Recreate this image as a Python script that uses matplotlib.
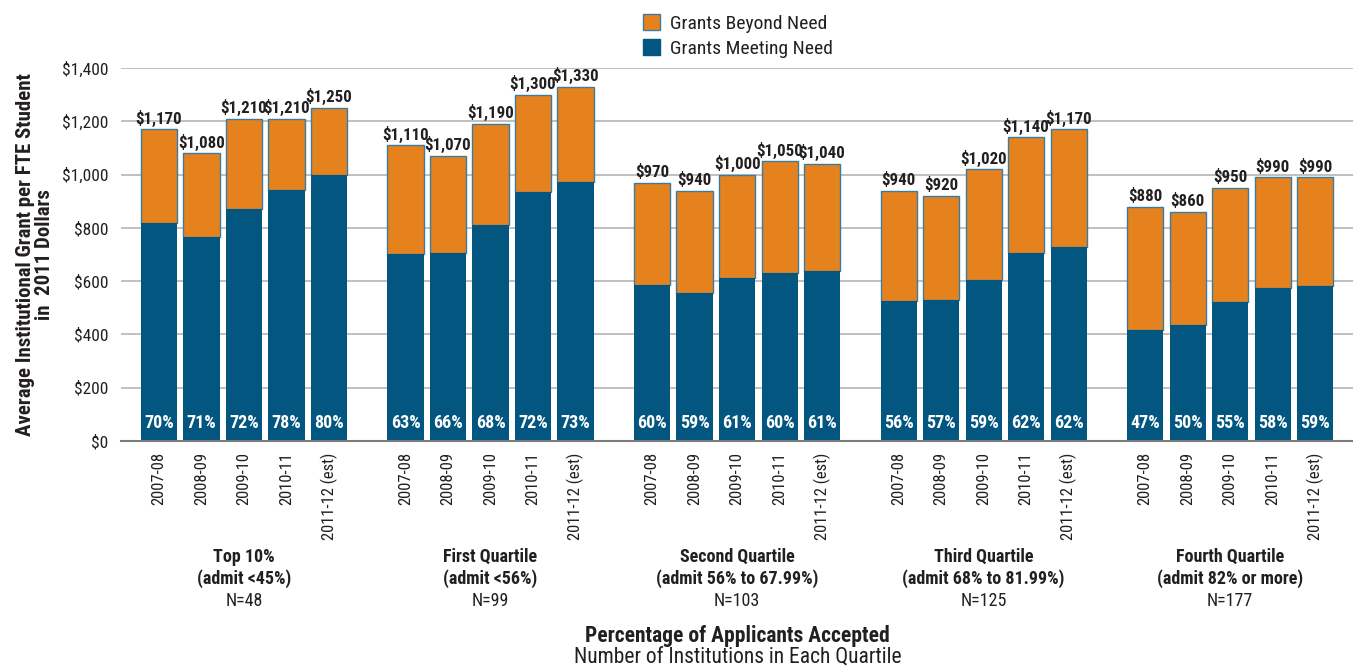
import numpy as np
import matplotlib
matplotlib.use("Agg")
import matplotlib.pyplot as plt
from matplotlib.patches import Patch

plt.rcParams['font.family'] = ['Roboto Condensed', 'Asap Condensed', 'Liberation Sans', 'DejaVu Sans']

# data
years = ['2007-08', '2008-09', '2009-10', '2010-11', '2011-12 (est)']
groups = ['Top 10%', 'First Quartile', 'Second Quartile', 'Third Quartile', 'Fourth Quartile']
admit = ['(admit <45%)', '(admit <56%)', '(admit 56% to 67.99%)',
         '(admit 68% to 81.99%)', '(admit 82% or more)']
n_inst = ['N=48', 'N=99', 'N=103', 'N=125', 'N=177']

totals = [
    [1170, 1080, 1210, 1210, 1250],
    [1110, 1070, 1190, 1300, 1330],
    [970, 940, 1000, 1050, 1040],
    [940, 920, 1020, 1140, 1170],
    [880, 860, 950, 990, 990],
]
meeting = [
    [818, 766, 870, 942, 998],
    [703, 705, 812, 934, 972],
    [584, 557, 612, 630, 637],
    [525, 530, 603, 706, 728],
    [415, 434, 523, 576, 583],
]
pcts = [
    ['70%', '71%', '72%', '78%', '80%'],
    ['63%', '66%', '68%', '72%', '73%'],
    ['60%', '59%', '61%', '60%', '61%'],
    ['56%', '57%', '59%', '62%', '62%'],
    ['47%', '50%', '55%', '58%', '59%'],
]

blue = '#02567f'
orange = '#e6821e'
edge = '#3a7c9f'
txt = '#231f20'

fig = plt.figure(figsize=(13.53, 6.66), dpi=100)
ax = fig.add_axes([0.0894, 0.3378, 0.9106, 0.5602])

pitch = 5.8
for g in range(5):
    x = g * pitch + np.arange(5)
    tot = np.array(totals[g])
    met = np.array(meeting[g])
    ax.bar(x, tot - met, bottom=met, width=0.85, color=orange,
           edgecolor=edge, linewidth=1, zorder=3)
    ax.bar(x, met, width=0.85, color=blue, edgecolor=blue, linewidth=0, zorder=3)
    for i in range(5):
        ax.text(x[i], tot[i] + 10, '$' + format(tot[i], ','), ha='center', va='bottom',
                fontsize=12.2, fontweight='bold', color=txt)
        ax.text(x[i], 68, pcts[g][i], ha='center', va='center', fontsize=13,
                fontweight='bold', color='white', zorder=4)
    cx = (121 + 42.5 * (g * pitch + 2 + 0.894)) / 1353
    fig.text(cx, 1 - 557 / 666, groups[g], ha='center', va='center',
             fontsize=13, fontweight='bold', color=txt)
    fig.text(cx, 1 - 579 / 666, admit[g], ha='center', va='center',
             fontsize=13, fontweight='bold', color=txt)
    fig.text(cx, 1 - 601 / 666, n_inst[g], ha='center', va='center',
             fontsize=13, color=txt)

xt = [g * pitch + i for g in range(5) for i in range(5)]
ax.set_xticks(xt)
ax.set_xticklabels(years * 5, rotation=90, fontsize=12, color=txt)
ax.tick_params(axis='x', length=0, pad=8)
ax.set_xlim(-0.894, 28.09)

ax.set_ylim(0, 1400)
ax.set_yticks(range(0, 1401, 200))
ax.set_yticklabels(['$' + format(v, ',') for v in range(0, 1401, 200)],
                   fontsize=12.5, color=txt)
ax.tick_params(axis='y', length=0, pad=9)
ax.grid(axis='y', color='#b5b5b5', linewidth=1.2, zorder=0)
for s in ['left', 'right', 'top']:
    ax.spines[s].set_visible(False)
ax.spines['bottom'].set_color('#7a7a7a')
ax.spines['bottom'].set_linewidth(1.5)
ax.spines['bottom'].set_zorder(5)

ax.set_ylabel('Average Institutional Grant per FTE Student\nin  2011 Dollars',
              fontsize=15, fontweight='bold', color=txt, labelpad=6, linespacing=1.0)

fig.text(0.545, 1 - 636 / 666, 'Percentage of Applicants Accepted', ha='center',
         va='center', fontsize=15.5, fontweight='bold', color=txt)
fig.text(0.545, 1 - 657 / 666, 'Number of Institutions in Each Quartile', ha='center',
         va='center', fontsize=15.5, color=txt)

handles = [Patch(facecolor=orange, edgecolor=edge), Patch(facecolor=blue, edgecolor=blue)]
fig.legend(handles, ['Grants Beyond Need', 'Grants Meeting Need'], loc='upper left',
           bbox_to_anchor=(0.462, 1.005), frameon=False, fontsize=14,
           handlelength=0.9, handleheight=0.9, handletextpad=0.5, labelspacing=0.3,
           labelcolor=txt)

fig.savefig('out.png', dpi=100)
